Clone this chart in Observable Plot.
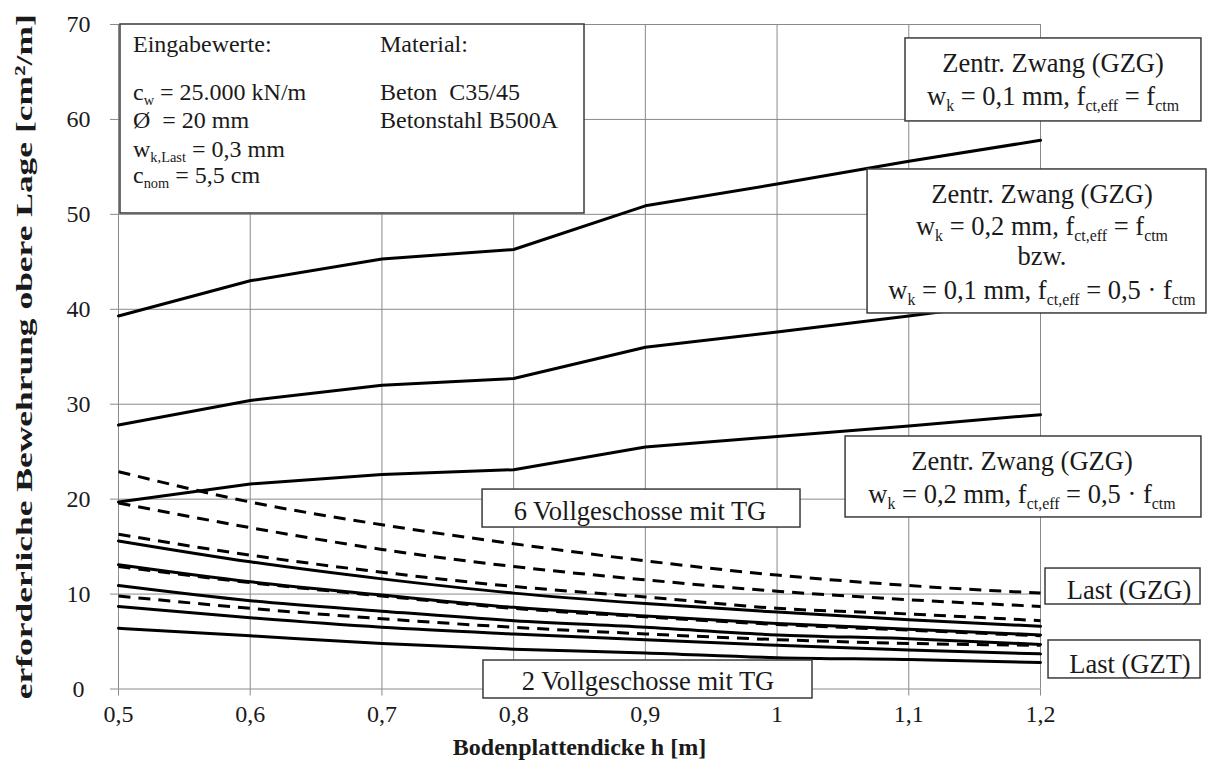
<!DOCTYPE html>
<html><head><meta charset="utf-8">
<script src="https://cdn.jsdelivr.net/npm/d3@7"></script>
<script src="https://cdn.jsdelivr.net/npm/@observablehq/plot@0.6"></script>
<style>
body{margin:0;background:#fff;}
#chart svg{display:block;}
#chart svg text{font-family:'Liberation Serif','Times New Roman',serif;}
#chart svg g[aria-label$="tick label"]{font-size:24px;}
</style></head><body><div id="chart"></div>
<script>
// ---- data ----
const thickness = [0.5, 0.6, 0.7, 0.8, 0.9, 1.0, 1.1, 1.2];
const xTicks = [0.5, 0.6, 0.7, 0.8, 0.9, 1.0, 1.1, 1.2];
const yTicks = [0, 10, 20, 30, 40, 50, 60, 70];

// Zentrischer Zwang (GZG)
const zwangW01 = [39.3, 43.0, 45.3, 46.3, 50.9, 53.2, 55.6, 57.8];
const zwangW02 = [27.8, 30.4, 32.0, 32.7, 36.0, 37.6, 39.3, 41.1];
const zwangW02half = [19.7, 21.6, 22.6, 23.1, 25.5, 26.6, 27.7, 28.9];

// Last (GZG) dashed, 6 ... 2 Vollgeschosse
const gzg6 = [22.9, 19.7, 17.3, 15.3, 13.5, 12.0, 10.9, 10.1];
const gzg5 = [19.6, 17.0, 14.7, 12.9, 11.5, 10.3, 9.4, 8.7];
const gzg4 = [16.3, 14.1, 12.3, 10.8, 9.7, 8.5, 7.9, 7.2];
const gzg3 = [12.9, 11.2, 9.8, 8.5, 7.6, 6.8, 6.2, 5.6];
const gzg2 = [9.8, 8.5, 7.4, 6.5, 5.8, 5.2, 4.8, 4.6];

// Last (GZT) solid, 6 ... 2 Vollgeschosse
const gzt6 = [15.6, 13.4, 11.6, 10.1, 9.0, 8.1, 7.3, 6.6];
const gzt5 = [13.1, 11.3, 9.9, 8.6, 7.7, 6.9, 6.3, 5.7];
const gzt4 = [10.9, 9.3, 8.2, 7.2, 6.5, 5.7, 5.3, 4.7];
const gzt3 = [8.7, 7.5, 6.5, 5.8, 5.2, 4.6, 4.1, 3.7];
const gzt2 = [6.4, 5.6, 4.8, 4.2, 3.8, 3.3, 3.1, 2.8];

const xTitle = "Bodenplattendicke h [m]";
const yTitle = "erforderliche Bewehrung obere Lage [cm²/m]";

// annotation boxes (data coordinates)
const boxes = [
  {x1: 0.5015, x2: 0.8538, y1: 50.09, y2: 70.0},
  {x1: 1.0975, x2: 1.3222, y1: 59.79, y2: 68.53},
  {x1: 1.0687, x2: 1.3260, y1: 39.56, y2: 54.73},
  {x1: 1.0520, x2: 1.3222, y1: 18.07, y2: 26.60},
  {x1: 1.2038, x2: 1.3215, y1: 8.90, y2: 12.69},
  {x1: 1.2061, x2: 1.3215, y1: 1.11, y2: 5.11},
  {x1: 0.7764, x2: 1.0178, y1: 17.01, y2: 21.01},
  {x1: 0.7771, x2: 1.0269, y1: -1.0, y2: 3.0}
];
// annotation texts: _{..} marks a subscript
const notes = [
  {x: 0.5114, y: 67.05, size: 24, anchor: "start", text: "Eingabewerte:"},
  {x: 0.6989, y: 67.05, size: 24, anchor: "start", text: "Material:"},
  {x: 0.5114, y: 62.02, size: 24, anchor: "start", text: "c_{w} = 25.000 kN/m"},
  {x: 0.5114, y: 59.04, size: 24, anchor: "start", text: "Ø  = 20 mm"},
  {x: 0.5114, y: 56.04, size: 24, anchor: "start", text: "w_{k,Last} = 0,3 mm"},
  {x: 0.5114, y: 53.25, size: 24, anchor: "start", text: "c_{nom} = 5,5 cm"},
  {x: 0.6989, y: 62.02, size: 24, anchor: "start", text: "Beton  C35/45"},
  {x: 0.6989, y: 59.04, size: 24, anchor: "start", text: "Betonstahl B500A"},
  {x: 1.2099, y: 64.94, size: 26.5, anchor: "middle", text: "Zentr. Zwang (GZG)"},
  {x: 1.2099, y: 61.46, size: 26.5, anchor: "middle", text: "w_{k} = 0,1 mm, f_{ct,eff} = f_{ctm}"},
  {x: 1.2015, y: 51.14, size: 26.5, anchor: "middle", text: "Zentr. Zwang (GZG)"},
  {x: 1.2015, y: 47.77, size: 26.5, anchor: "middle", text: "w_{k} = 0,2 mm, f_{ct,eff} = f_{ctm}"},
  {x: 1.2015, y: 44.61, size: 26.5, anchor: "middle", text: "bzw."},
  {x: 1.2015, y: 41.03, size: 26.5, anchor: "middle", text: "w_{k} = 0,1 mm, f_{ct,eff} = 0,5 · f_{ctm}"},
  {x: 1.1863, y: 23.02, size: 26.5, anchor: "middle", text: "Zentr. Zwang (GZG)"},
  {x: 1.1863, y: 19.54, size: 26.5, anchor: "middle", text: "w_{k} = 0,2 mm, f_{ct,eff} = 0,5 · f_{ctm}"},
  {x: 1.2676, y: 9.43, size: 26.5, anchor: "middle", text: "Last (GZG)"},
  {x: 1.2683, y: 1.63, size: 26.5, anchor: "middle", text: "Last (GZT)"},
  {x: 0.8963, y: 17.75, size: 26.5, anchor: "middle", text: "6 Vollgeschosse mit TG"},
  {x: 0.9024, y: -0.16, size: 26.5, anchor: "middle", text: "2 Vollgeschosse mit TG"}
];

// ---- build tables ----
function rows(name, values) { return thickness.map((h, i) => ({h, v: values[i], series: name})); }
const zwangRows = [...rows("z01", zwangW01), ...rows("z02", zwangW02), ...rows("z02h", zwangW02half)];
const gzgRows = [...rows("g6", gzg6), ...rows("g5", gzg5), ...rows("g4", gzg4), ...rows("g3", gzg3), ...rows("g2", gzg2)];
const gztRows = [...rows("t6", gzt6), ...rows("t5", gzt5), ...rows("t4", gzt4), ...rows("t3", gzt3), ...rows("t2", gzt2)];

const FONT = "'Liberation Serif', 'Times New Roman', serif";
const GRID = "#8a8a8a";

const plot = Plot.plot({
  width: 1208,
  height: 772,
  marginLeft: 118,
  marginRight: 168,
  marginTop: 24,
  marginBottom: 83.5,
  style: {fontFamily: FONT, fontSize: "24px", background: "#fff", color: "#1a1a1a"},
  x: {domain: [0.5, 1.2]},
  y: {domain: [0, 70]},
  marks: [
    Plot.gridX(xTicks, {stroke: GRID, strokeOpacity: 1, strokeWidth: 1}),
    Plot.gridY(yTicks, {stroke: GRID, strokeOpacity: 1, strokeWidth: 1}),
    Plot.axisX({ticks: xTicks, tickFormat: d => String(d).replace(".", ","), tickSize: 7, tickPadding: 9,
      fontSize: 24, stroke: GRID, fill: "#1a1a1a", label: null}),
    Plot.axisY({ticks: yTicks, tickSize: 8, tickPadding: 32, textAnchor: "middle",
      fontSize: 24, stroke: GRID, fill: "#1a1a1a", label: null}),
    Plot.line(zwangRows, {x: "h", y: "v", z: "series", stroke: "#000", strokeWidth: 3, curve: "linear"}),
    Plot.line(gztRows, {x: "h", y: "v", z: "series", stroke: "#000", strokeWidth: 3, curve: "monotone-x"}),
    Plot.line(gzgRows, {x: "h", y: "v", z: "series", stroke: "#000", strokeWidth: 3, curve: "monotone-x",
      strokeDasharray: "12,8", strokeLinecap: "butt"}),
    Plot.rect(boxes, {x1: "x1", x2: "x2", y1: "y1", y2: "y2", fill: "#fff", stroke: "#3a3a3a", strokeWidth: 1.5}),
    Plot.text([xTitle], {text: d => d, frameAnchor: "bottom", dy: 66, fontSize: 24, fontWeight: "bold", fill: "#1a1a1a"}),
    Plot.text([yTitle], {text: d => d, frameAnchor: "left", textAnchor: "middle", dx: -94, rotate: -90,
      fontSize: 24, fontWeight: "bold", fill: "#1a1a1a"})
  ]
});
document.getElementById("chart").appendChild(plot);

// ---- rich-text annotations (subscripts) placed with the plot's scales ----
const sx = plot.scale("x"), sy = plot.scale("y");
const px = sx.apply ? v => sx.apply(v) : d3.scaleLinear(sx.domain, sx.range);
const py = sy.apply ? v => sy.apply(v) : d3.scaleLinear(sy.domain, sy.range);
const svg = d3.select(plot);
const g = svg.append("g").attr("fill", "#1a1a1a");
for (const a of notes) {
  const t = g.append("text").attr("x", px(a.x)).attr("y", py(a.y))
    .attr("font-size", a.size).attr("text-anchor", a.anchor).style("white-space", "pre");
  const sd = a.size * 0.22;
  let shifted = false;
  for (const m of a.text.matchAll(/_\{([^}]*)\}|[^_]+/g)) {
    if (m[1] !== undefined) {
      t.append("tspan").attr("dy", shifted ? 0 : sd).attr("font-size", a.size * 0.6).text(m[1]);
      shifted = true;
    } else {
      const s = t.append("tspan").text(m[0]);
      if (shifted) { s.attr("dy", -sd); shifted = false; }
    }
  }
}
// stretch the y title along its length as in the reference
svg.selectAll("text").filter(function() { return this.textContent === yTitle; })
  .attr("textLength", 685).attr("lengthAdjust", "spacingAndGlyphs");
</script></body></html>
